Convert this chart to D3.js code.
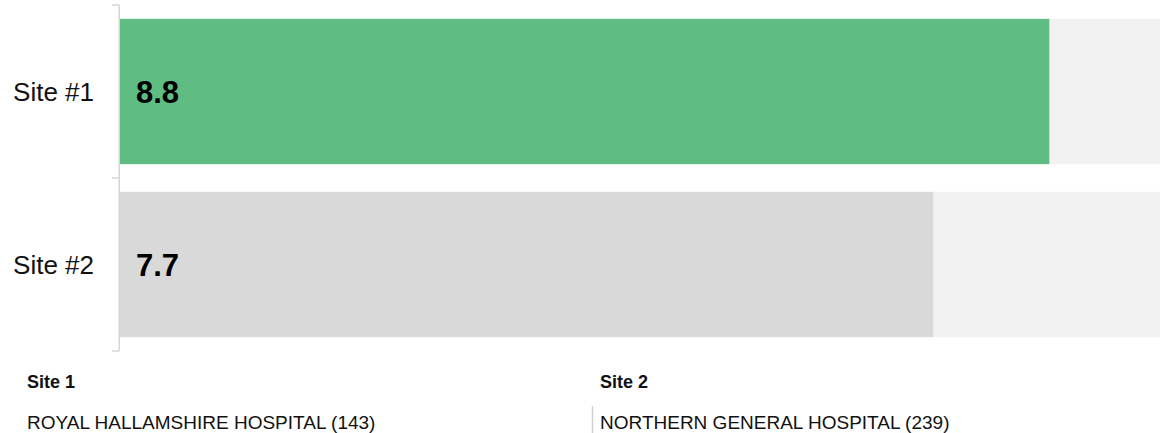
<!DOCTYPE html>
<html>
<head>
<meta charset="utf-8">
<script src="https://cdn.jsdelivr.net/npm/d3@7"></script>
<style>
  html, body { margin: 0; padding: 0; background: #fff; }
  svg { display: block; font-family: "Liberation Sans", Arial, sans-serif; }
</style>
</head>
<body>
<svg id="chart" width="1160" height="433"></svg>
<script>
// Scores per site
const categories = ["Site #1", "Site #2"];
const scores = [8.8, 7.7];
const maxScore = 10;
const siteTitles = ["Site 1", "Site 2"];
const siteNames = ["ROYAL HALLAMSHIRE HOSPITAL (143)", "NORTHERN GENERAL HOSPITAL (239)"];

const barColors = ["#5fbd84", "#d9d9d9"];
const trackColor = "#f2f2f2";

const svg = d3.select("#chart");

const x = d3.scaleLinear().domain([0, maxScore]).range([120, 1176]);
const row = d3.scaleBand().domain(categories).range([5, 351]).padding(0);
const inset = row.bandwidth() * 0.08;

// background tracks
svg.append("g").selectAll("rect")
  .data(categories)
  .join("rect")
  .attr("x", x(0))
  .attr("y", d => row(d) + inset)
  .attr("width", x(maxScore) - x(0))
  .attr("height", row.bandwidth() - 2 * inset)
  .attr("fill", trackColor);

// value bars
svg.append("g").selectAll("rect")
  .data(categories)
  .join("rect")
  .attr("x", x(0))
  .attr("y", d => row(d) + inset)
  .attr("width", (d, i) => x(scores[i]) - x(0))
  .attr("height", row.bandwidth() - 2 * inset)
  .attr("fill", (d, i) => barColors[i]);

// value labels
svg.append("g").selectAll("text")
  .data(categories)
  .join("text")
  .attr("x", x(0) + 16)
  .attr("y", d => row(d) + row.bandwidth() / 2)
  .attr("dy", "0.38em")
  .attr("font-size", 31)
  .attr("font-weight", "bold")
  .attr("fill", "#000")
  .text((d, i) => scores[i].toFixed(1));

// left axis with ticks at row boundaries
const bounds = [row.range()[0]].concat(categories.map(c => row(c) + row.bandwidth()));
const axis = svg.append("g").attr("stroke", "#d6d6d6").attr("stroke-width", 1.5).attr("fill", "none");
axis.append("line")
  .attr("x1", x(0) - 0.75).attr("x2", x(0) - 0.75)
  .attr("y1", bounds[0]).attr("y2", bounds[bounds.length - 1]);
axis.selectAll("line.tick")
  .data(bounds)
  .join("line")
  .attr("class", "tick")
  .attr("x1", x(0) - 8).attr("x2", x(0) - 0.75)
  .attr("y1", d => d).attr("y2", d => d);

// category labels
svg.append("g").selectAll("text")
  .data(categories)
  .join("text")
  .attr("x", 94)
  .attr("y", d => row(d) + row.bandwidth() / 2)
  .attr("dy", "0.36em")
  .attr("text-anchor", "end")
  .attr("font-size", 26)
  .attr("fill", "#111")
  .text(d => d);

// site legend below the chart
const legendX = [27, 600];
const legend = svg.append("g").selectAll("g")
  .data(siteTitles)
  .join("g");
legend.append("text")
  .attr("x", (d, i) => legendX[i])
  .attr("y", 388)
  .attr("font-size", 18)
  .attr("font-weight", "bold")
  .attr("fill", "#111")
  .text(d => d);
legend.append("text")
  .attr("x", (d, i) => legendX[i])
  .attr("y", 429)
  .attr("font-size", 19)
  .attr("fill", "#111")
  .text((d, i) => siteNames[i]);

// divider between the two site columns
svg.append("line")
  .attr("x1", 592.5).attr("x2", 592.5)
  .attr("y1", 406).attr("y2", 433)
  .attr("stroke", "#d0d0d0")
  .attr("stroke-width", 1.5);
</script>
</body>
</html>
